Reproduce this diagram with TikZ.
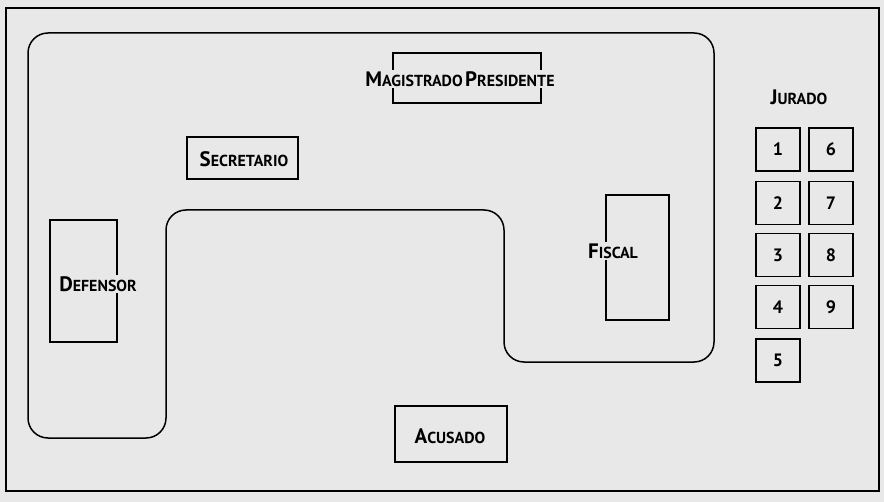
\documentclass[tikz,border=0pt]{standalone}
\usepackage{fontspec}
\setmainfont{PT Sans}
\definecolor{bgc}{RGB}{232,232,232}
\newcommand\sccap[2]{{\fontsize{21}{21}\selectfont #1}{\fontsize{16}{16}\selectfont #2}}
\tikzset{
  frame/.style={draw, line width=1.6bp},
  tableline/.style={draw, line width=1.5bp, rounded corners=20bp},
  seat/.style={draw, line width=1.9bp, inner sep=0pt},
  lab/.style={font=\bfseries, fill=bgc, inner sep=1.5bp},
  juror/.style={seat, minimum width=44bp, minimum height=43bp, font=\bfseries\fontsize{18}{18}\selectfont},
}
\begin{document}
\begin{tikzpicture}[x=1bp,y=-1bp]
\fill[bgc] (0,0) rectangle (884,502);
\useasboundingbox (0,0) rectangle (884,502);
\draw[frame] (6,8) rectangle (879,491);
\draw[tableline] (28,33) -- (714,33) -- (714,362) -- (504,362) -- (504,210) -- (166,210) -- (166,438) -- (28,438) -- cycle;

\node[seat, minimum width=148bp, minimum height=50bp] (magbox) at (467,78) {};
\node[lab] (maglab) at (460,79) {\sccap{M}{AGISTRADO} \sccap{P}{RESIDENTE}};

\node[seat, minimum width=111bp, minimum height=42bp] (secbox) at (242.5,158) {};
\node[lab] (seclab) at (244,159) {\sccap{S}{ECRETARIO}};

\node[seat, minimum width=67bp, minimum height=122bp] (defbox) at (83.5,281) {};
\node[lab] (deflab) at (98,284) {\sccap{D}{EFENSOR}};

\node[seat, minimum width=63bp, minimum height=125bp] (fisbox) at (637.5,257.5) {};
\node[lab] (fislab) at (613,251) {\sccap{F}{ISCAL}};

\node[seat, minimum width=112bp, minimum height=56bp] (acubox) at (451,434) {};
\node[lab] (aculab) at (450,436) {\sccap{A}{CUSADO}};

\node[lab] (jurlab) at (799,97) {\sccap{J}{URADO}};
\node[juror] (j1) at (778,149.5) {1};
\node[juror] (j2) at (778,203) {2};
\node[juror] (j3) at (778,255) {3};
\node[juror] (j4) at (778,307) {4};
\node[juror] (j5) at (778,360.5) {5};
\node[juror] (j6) at (831,149.5) {6};
\node[juror] (j7) at (831,203) {7};
\node[juror] (j8) at (831,255) {8};
\node[juror] (j9) at (831,307) {9};
\end{tikzpicture}
\end{document}
